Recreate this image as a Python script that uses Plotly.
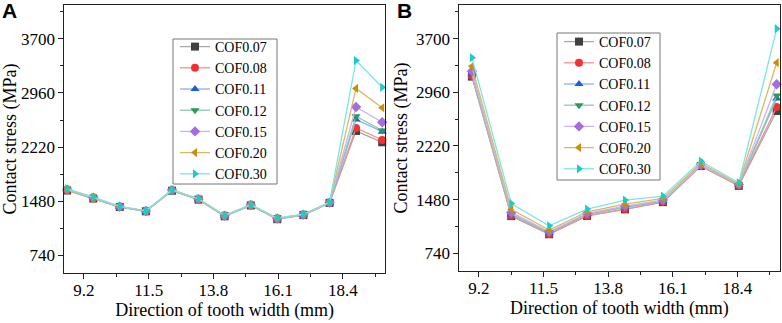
import plotly.graph_objects as go

# ---------------- data ----------------
series_names = ["COF0.07", "COF0.08", "COF0.11", "COF0.12", "COF0.15", "COF0.20", "COF0.30"]

x_a = [8.6, 9.53, 10.47, 11.4, 12.33, 13.27, 14.2, 15.13, 16.07, 17.0, 17.93, 18.87, 19.8]
a_cof007 = [1625, 1515, 1398, 1340, 1622, 1500, 1272, 1420, 1232, 1288, 1455, 2440, 2285]
a_cof008 = [1628, 1518, 1400, 1341, 1624, 1502, 1274, 1422, 1234, 1290, 1456, 2481, 2316]
a_cof011 = [1632, 1521, 1401, 1342, 1626, 1504, 1276, 1424, 1237, 1292, 1458, 2597, 2430]
a_cof012 = [1634, 1523, 1402, 1343, 1627, 1505, 1277, 1425, 1239, 1293, 1459, 2641, 2447]
a_cof015 = [1637, 1526, 1404, 1344, 1629, 1507, 1279, 1427, 1241, 1295, 1460, 2768, 2559]
a_cof020 = [1641, 1529, 1405, 1345, 1631, 1509, 1281, 1429, 1244, 1297, 1462, 3022, 2758]
a_cof030 = [1650, 1535, 1408, 1347, 1634, 1512, 1284, 1431, 1248, 1300, 1464, 3405, 3038]

x_b = [8.95, 10.35, 11.7, 13.05, 14.4, 15.75, 17.1, 18.45, 19.8]
b_cof007 = [3177, 1252, 1002, 1255, 1345, 1445, 1943, 1670, 2703]
b_cof008 = [3185, 1257, 1004, 1258, 1349, 1449, 1946, 1678, 2758]
b_cof011 = [3208, 1275, 1020, 1278, 1372, 1460, 1955, 1685, 2874]
b_cof012 = [3222, 1282, 1025, 1282, 1378, 1465, 1952, 1687, 2915]
b_cof015 = [3250, 1303, 1036, 1290, 1390, 1473, 1960, 1690, 3071]
b_cof020 = [3319, 1345, 1060, 1312, 1418, 1496, 1982, 1695, 3369]
b_cof030 = [3438, 1427, 1119, 1349, 1473, 1528, 2010, 1711, 3838]

x_tick_values = [9.2, 11.5, 13.8, 16.1, 18.4]
y_tick_values = [740, 1480, 2220, 2960, 3700]

# ---------------- styles ----------------
marker_colors = ["#404040", "#f03232", "#1a5fe0", "#2a9a5a", "#a56be0", "#c8900a", "#1ccccc"]
line_colors = ["#a8a8a8", "#f59090", "#8cb0f0", "#88cca8", "#cfb0f0", "#dcb860", "#7ae6e6"]
symbols = ["square", "circle", "triangle-up", "triangle-down", "diamond", "triangle-left", "triangle-right"]

data_a = [a_cof007, a_cof008, a_cof011, a_cof012, a_cof015, a_cof020, a_cof030]
data_b = [b_cof007, b_cof008, b_cof011, b_cof012, b_cof015, b_cof020, b_cof030]

SERIF = "Liberation Serif"
SANS = "Liberation Sans"

fig = go.Figure()
for i, name in enumerate(series_names):
    fig.add_trace(go.Scatter(
        x=x_a, y=data_a[i], name=name, mode="lines+markers",
        line=dict(color=line_colors[i], width=1.3),
        marker=dict(symbol=symbols[i], color=marker_colors[i], size=8, line=dict(width=0)),
        xaxis="x", yaxis="y", legend="legend", cliponaxis=False))
for i, name in enumerate(series_names):
    fig.add_trace(go.Scatter(
        x=x_b, y=data_b[i], name=name, mode="lines+markers",
        line=dict(color=line_colors[i], width=1.3),
        marker=dict(symbol=symbols[i], color=marker_colors[i], size=8, line=dict(width=0)),
        xaxis="x2", yaxis="y2", legend="legend2", cliponaxis=False))

W, H = 782, 323

def px_x(p):
    return p / W

def px_y(p):
    return 1 - p / H

axis_common = dict(
    showgrid=False, zeroline=False, showline=True, linecolor="#222", linewidth=1,
    mirror=True, ticks="outside", ticklen=5, tickwidth=1, tickcolor="#222",
    tickfont=dict(family=SERIF, size=17, color="black"),
)

xaxis_common = dict(axis_common, range=[8.5, 19.9], tickmode="array", tickvals=x_tick_values,
                    ticktext=[f"{v:.1f}" for v in x_tick_values], ticklabelstandoff=-3,
                    minor=dict(ticks="outside", ticklen=3, tickwidth=1, tickcolor="#222",
                               tick0=8.05, dtick=2.3, showgrid=False),
                    title=dict(text="Direction of tooth width (mm)",
                               font=dict(family=SERIF, size=18, color="black"), standoff=2))
yaxis_common = dict(axis_common, range=[495, 4165], tickmode="array", tickvals=y_tick_values,
                    minor=dict(ticks="outside", ticklen=3, tickwidth=1, tickcolor="#222",
                               tick0=370, dtick=740, showgrid=False),
                    title=dict(text="Contact stress (MPa)",
                               font=dict(family=SERIF, size=18, color="black"), standoff=3))

legend_common = dict(xanchor="left", yanchor="top", bgcolor="rgba(0,0,0,0)",
                     borderwidth=0, font=dict(family=SERIF, size=14, color="black"),
                     tracegroupgap=0, itemwidth=30)

# legend frames (px boxes from the reference)
box_a = (173, 39, 277, 184)
box_b = (557, 33, 660, 180)

def frame(box):
    x0, y0, x1, y1 = box
    return dict(type="rect", xref="paper", yref="paper", layer="above",
                x0=px_x(x0), x1=px_x(x1), y0=px_y(y1), y1=px_y(y0),
                line=dict(color="#777", width=1), fillcolor="white")

fig.update_layout(
    width=W, height=H,
    margin=dict(l=0, r=0, t=0, b=0),
    paper_bgcolor="white", plot_bgcolor="white",
    xaxis=dict(xaxis_common, domain=[px_x(64.3), px_x(385)], anchor="y"),
    yaxis=dict(yaxis_common, domain=[px_y(273), px_y(5)], anchor="x"),
    xaxis2=dict(xaxis_common, domain=[px_x(459.3), px_x(779.5)], anchor="y2"),
    yaxis2=dict(yaxis_common, domain=[px_y(271), px_y(5)], anchor="x2"),
    legend=dict(legend_common, x=px_x(175), y=px_y(31)),
    legend2=dict(legend_common, x=px_x(559), y=px_y(26)),
    showlegend=True,
    shapes=[frame(box_a), frame(box_b)],
    annotations=[
        dict(text="<b>A</b>", x=0, y=1.01, xref="paper", yref="paper", xanchor="left", yanchor="top",
             showarrow=False, font=dict(family=SANS, size=21, color="black")),
        dict(text="<b>B</b>", x=px_x(395), y=1.01, xref="paper", yref="paper", xanchor="left", yanchor="top",
             showarrow=False, font=dict(family=SANS, size=21, color="black")),
    ],
)

fig.write_html("out.html", config={"displayModeBar": False},
               post_script="document.body.style.margin='0';document.body.style.overflow='hidden';")
